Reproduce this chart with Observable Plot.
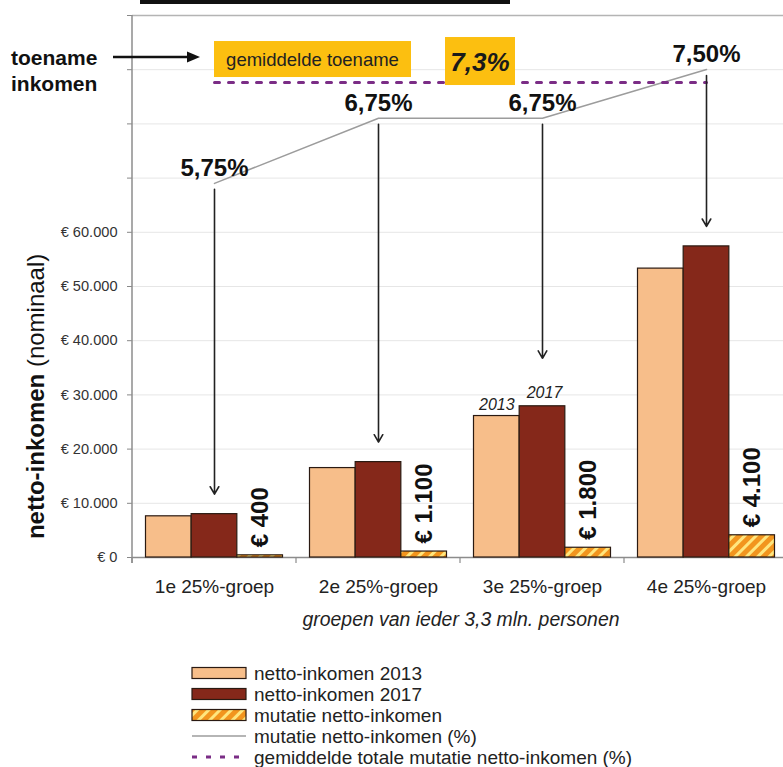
<!DOCTYPE html>
<html><head><meta charset="utf-8">
<script src="https://cdn.jsdelivr.net/npm/d3@7"></script>
<script src="https://cdn.jsdelivr.net/npm/@observablehq/plot@0.6"></script>
<style>
body{margin:0;background:#fff;font-family:"Liberation Sans",Arial,sans-serif;}
#wrap{position:relative;width:783px;height:767px;overflow:hidden;background:#fff;}
#chart{position:absolute;left:0;top:0;}
#legend{position:absolute;left:0;top:645px;}
</style></head><body>
<div id="wrap"><div id="chart"></div><svg id="legend" width="783" height="122"></svg></div>
<script>
// ---- data ----
const groups = ["1e 25%-groep", "2e 25%-groep", "3e 25%-groep", "4e 25%-groep"];
const income2013 = [7600, 16500, 26100, 53300];
const income2017 = [8000, 17600, 27900, 57400];
const mutation = [400, 1100, 1800, 4100];
const mutationPct = [5.75, 6.75, 6.75, 7.50];
const avgMutationPct = 7.3;
const years = ["2013", "2017"];
const seriesNames = ["netto-inkomen 2013", "netto-inkomen 2017", "mutatie netto-inkomen", "mutatie netto-inkomen (%)", "gemiddelde totale mutatie netto-inkomen (%)"];
const yTicks = d3.range(0, 100001, 10000);
const yLabelMax = 60000;
const yDomain = [0, 100000];
const pctDomain = [0, 8.33];   // secondary (percentage) axis, shares the plot height
const xTitle = "groepen van ieder 3,3 mln. personen";
const yTitleBold = "netto-inkomen";
const yTitleNormal = " (nominaal)";
const avgBoxText = "gemiddelde toename";
const sideNote = ["toename", "inkomen"];

// ---- helpers ----
const fmtEuro = v => "€ " + d3.format(",")(v).replace(/,/g, ".");
const fmtPct = p => p.toFixed(2).replace(".", ",") + "%";
const pctToY = p => (p - pctDomain[0]) / (pctDomain[1] - pctDomain[0]) * (yDomain[1] - yDomain[0]) + yDomain[0];

const C2013 = "#F7BE8A", C2017 = "#85281A", CORANGE = "#F2951E", CSTRIPE = "#FFE67E";
const CGOLD = "#FCBF10", CPURPLE = "#7B2D86", CGRAY = "#9c9c9c";
const FONT = '"Liberation Sans", Arial, sans-serif';

const rows13 = groups.map((g, i) => ({group: g, value: income2013[i]}));
const rows17 = groups.map((g, i) => ({group: g, value: income2017[i]}));
const rowsMut = groups.map((g, i) => ({group: g, value: mutation[i]}));
const rowsPct = groups.map((g, i) => ({group: g, pct: mutationPct[i], top: Math.max(income2013[i], income2017[i])}));
const rowsAvg = [groups[0], groups[groups.length - 1]].map(g => ({group: g, pct: avgMutationPct}));

const W = 783, H = 645, mL = 132, mT = 15, mB = 88;
const xRange = [132, 788];
const bw = (xRange[1] - xRange[0]) / groups.length;
const pad = 13.5, barW = (bw - 2 * pad) / 3;
const ins = i => ({insetLeft: pad + i * barW, insetRight: bw - pad - (i + 1) * barW});
const barStyle = {stroke: "#2a1a12", strokeWidth: 1.2};

const plot = Plot.plot({
  width: W, height: H,
  marginLeft: mL, marginRight: 0, marginTop: mT, marginBottom: mB,
  style: {fontFamily: FONT, fontSize: "14.6px", color: "#333", background: "white", overflow: "visible"},
  x: {type: "band", domain: groups, range: xRange, padding: 0},
  y: {domain: yDomain},
  marks: [
    Plot.gridY(yTicks.filter(t => t > yDomain[0] && t < yDomain[1]), {stroke: "#e6e6e6", strokeOpacity: 1}),
    Plot.ruleY([yDomain[1]], {stroke: "#b4b4b4", strokeWidth: 1.5}),
    Plot.ruleY([0], {stroke: "#8c8c8c", strokeWidth: 1.5}),
    Plot.axisY({ticks: yTicks, tickFormat: t => t <= yLabelMax ? fmtEuro(t) : "", tickSize: 5, tickPadding: 10, fontSize: 14.6, label: null, stroke: "#888", fill: "#333"}),
    Plot.axisX({tickSize: 0, tickPadding: 22, fontSize: 19, label: null, fill: "#222"}),
    Plot.text([xTitle], {frameAnchor: "bottom", dx: 3, dy: 68.5, fontStyle: "italic", fontSize: 19.4, fill: "#222"}),
    Plot.barY(rows13, {x: "group", y: "value", fill: C2013, ...barStyle, ...ins(0)}),
    Plot.barY(rows17, {x: "group", y: "value", fill: C2017, ...barStyle, ...ins(1)}),
    Plot.barY(rowsMut, {x: "group", y: "value", fill: "url(#hatch)", ...barStyle, ...ins(2)}),
    Plot.text(rowsMut, {x: "group", y: "value", text: d => fmtEuro(d.value), rotate: -90, textAnchor: "start", dx: pad + 2.5 * barW - bw / 2, dy: -8, fontSize: 24, fontWeight: "bold", fill: "#111"}),
    Plot.text([rows13[2]], {x: "group", y: "value", text: () => years[0], dx: -barW, dy: -6, lineAnchor: "bottom", fontStyle: "italic", fontSize: 16, fill: "#222"}),
    Plot.text([rows17[2]], {x: "group", y: "value", text: () => years[1], dx: 2, dy: -8, lineAnchor: "bottom", fontStyle: "italic", fontSize: 16, fill: "#222"}),
    Plot.line(rowsPct, {x: "group", y: d => pctToY(d.pct), stroke: CGRAY, strokeWidth: 1.5}),
    Plot.line(rowsAvg, {x: "group", y: d => pctToY(d.pct), stroke: CPURPLE, strokeWidth: 3, strokeDasharray: "5,9"}),
    Plot.arrow(rowsPct.filter((d, i) => i !== 2), {x: "group", y1: d => pctToY(d.pct), y2: "top", insetStart: 6, insetEnd: 20, stroke: "#222", strokeWidth: 1.6, headLength: 8}),
    Plot.arrow(rowsPct.filter((d, i) => i === 2), {x: "group", y1: d => pctToY(d.pct), y2: "top", insetStart: 6, insetEnd: 48, stroke: "#222", strokeWidth: 1.6, headLength: 8}),
    Plot.text(rowsPct, {x: "group", y: d => pctToY(d.pct), text: d => fmtPct(d.pct), dy: -15, fontSize: 24, fontWeight: "bold", fill: "#111"})
  ]
});
document.getElementById("chart").appendChild(plot);

const svg = d3.select(plot);
const xs = plot.scale("x"), ys = plot.scale("y");
// hatch pattern
const defs = svg.insert("defs", ":first-child");
const pat = defs.append("pattern").attr("id", "hatch").attr("patternUnits", "userSpaceOnUse")
  .attr("width", 8).attr("height", 8).attr("patternTransform", "rotate(45)");
pat.append("rect").attr("width", 8).attr("height", 8).attr("fill", CORANGE);
pat.append("rect").attr("x", 0).attr("width", 3).attr("height", 8).attr("fill", CSTRIPE);

const y0 = ys.apply(yDomain[0]), yTop = ys.apply(yDomain[1]);
// y axis line and category boundary ticks
svg.append("line").attr("x1", xRange[0]).attr("x2", xRange[0]).attr("y1", yTop).attr("y2", y0 + 6).attr("stroke", "#8c8c8c").attr("stroke-width", 1.5);
groups.forEach(g => {
  const x = xs.apply(g);
  svg.append("line").attr("x1", x).attr("x2", x).attr("y1", y0).attr("y2", y0 + 6).attr("stroke", "#8c8c8c").attr("stroke-width", 1.2);
});
// y title
svg.append("text").attr("transform", `translate(35,${(y0 + ys.apply(yLabelMax)) / 2 + 2}) rotate(-90)`)
  .attr("text-anchor", "middle").attr("dominant-baseline", "central").attr("font-size", 24).attr("fill", "#111")
  .call(t => { t.append("tspan").attr("font-weight", "bold").text(yTitleBold); t.append("tspan").text(yTitleNormal); });

// annotations anchored at the average line
const yAvg = ys.apply(pctToY(avgMutationPct));
const gx0 = xs.apply(groups[0]) + xs.bandwidth / 2;
svg.append("rect").attr("x", gx0).attr("y", yAvg - 41).attr("width", 197).attr("height", 36).attr("fill", CGOLD);
svg.append("text").attr("x", gx0 + 98.5).attr("y", yAvg - 23).attr("text-anchor", "middle").attr("dominant-baseline", "central")
  .attr("font-size", 18.5).attr("fill", "#222").text(avgBoxText);
const bx = 445;
svg.append("rect").attr("x", bx).attr("y", yAvg - 45).attr("width", 70).attr("height", 48).attr("fill", CGOLD);
svg.append("text").attr("x", bx + 35).attr("y", yAvg - 20).attr("text-anchor", "middle").attr("dominant-baseline", "central")
  .attr("font-size", 26).attr("font-weight", "bold").attr("font-style", "italic").attr("fill", "#1a1a1a")
  .text(avgMutationPct.toFixed(1).replace(".", ",") + "%");
svg.append("text").attr("x", 11).attr("y", yAvg - 25).attr("text-anchor", "start").attr("dominant-baseline", "central").attr("font-size", 21).attr("font-weight", "bold").attr("fill", "#111").text(sideNote[0]);
svg.append("text").attr("x", 11).attr("y", yAvg + 1).attr("text-anchor", "start").attr("dominant-baseline", "central").attr("font-size", 21).attr("font-weight", "bold").attr("fill", "#111").text(sideNote[1]);
svg.append("line").attr("x1", 113).attr("x2", 190).attr("y1", yAvg - 25).attr("y2", yAvg - 25).attr("stroke", "#111").attr("stroke-width", 2.5);
svg.append("path").attr("d", `M200,${yAvg - 25} L187,${yAvg - 30.5} L187,${yAvg - 19.5} Z`).attr("fill", "#111");
// cut-off title bar at the very top
svg.append("rect").attr("x", 140).attr("y", 0).attr("width", 370).attr("height", 4).attr("fill", "#111");

// ---- legend ----
const lg = d3.select("#legend");
const ldefs = lg.append("defs");
const lp = ldefs.append("pattern").attr("id", "hatchL").attr("patternUnits", "userSpaceOnUse")
  .attr("width", 8).attr("height", 8).attr("patternTransform", "rotate(45)");
lp.append("rect").attr("width", 8).attr("height", 8).attr("fill", CORANGE);
lp.append("rect").attr("width", 3).attr("height", 8).attr("fill", CSTRIPE);
const lx = 192, lw = 54, tx = 254, rowH = 21, ly0 = 28;
seriesNames.forEach((name, i) => {
  const cy = ly0 + i * rowH;
  if (i < 3) {
    lg.append("rect").attr("x", lx).attr("y", cy - 5.5).attr("width", lw).attr("height", 11)
      .attr("fill", [C2013, C2017, "url(#hatchL)"][i]).attr("stroke", "#2a1a12").attr("stroke-width", 1.2);
  } else if (i === 3) {
    lg.append("line").attr("x1", lx).attr("x2", lx + lw).attr("y1", cy).attr("y2", cy).attr("stroke", CGRAY).attr("stroke-width", 1.5);
  } else {
    lg.append("line").attr("x1", lx).attr("x2", lx + lw).attr("y1", cy).attr("y2", cy).attr("stroke", CPURPLE).attr("stroke-width", 3).attr("stroke-dasharray", "5,9");
  }
  lg.append("text").attr("x", tx).attr("y", cy).attr("dominant-baseline", "central").attr("font-size", 19)
    .attr("fill", "#222").attr("font-family", FONT).text(name);
});
</script></body></html>
